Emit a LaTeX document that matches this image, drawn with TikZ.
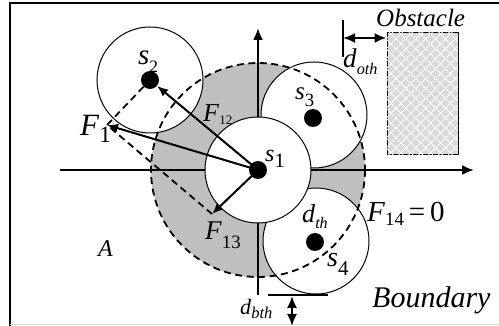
\documentclass[tikz,border=0pt]{standalone}
\usepackage{fontspec}
\setmainfont{Liberation Serif}
\usetikzlibrary{patterns.meta, arrows.meta}
% lowered subscript: [scale]{lowering}{text}
\newcommand{\lo}[3][0.7]{\raisebox{-#2em}{\scalebox{#1}{#3}}}

\begin{document}
\begin{tikzpicture}[
    x=1pt, y=-1pt,
    >={Latex[length=12pt, width=10pt]},
    robot/.style={circle, draw, fill=white, line width=1pt, minimum size=106pt, inner sep=0pt},
    dot/.style={circle, fill=black, minimum size=18pt, inner sep=0pt},
    force/.style={-{Latex[length=11pt, width=9pt]}, line width=2pt},
    helper/.style={line width=1.8pt, dash pattern=on 7pt off 4.5pt},
    lbl/.style={inner sep=0pt, anchor=base west, font=\fontsize{#1}{#1}\selectfont}
]
    \def\rSafe{107} % radius of the dashed circle
    \useasboundingbox (0,0) rectangle (499,326);
    % frame
    \draw[line width=2.5pt] (10,326) -- (10,3) -- (499,3);
    \draw[gray!30, line width=0.8pt] (10,324) -- (499,324);
    % centres
    \coordinate (c1) at (258,170);
    \coordinate (c2) at (150,80);
    \coordinate (c3) at (314,115);
    \coordinate (c4) at (316,241);
    % gray band
    \fill[gray!50] (c1) circle (\rSafe);
    % axes
    \draw[->, line width=2.2pt] (60,170) -- (474,170);
    \draw[->, line width=2.2pt] (258,295) -- (258,28);
    % robots
    \node[robot] (r2) at (c2) {};
    \node[robot] (r3) at (c3) {};
    \node[robot] (r4) at (c4) {};
    \node[robot] (r1) at (c1) {};
    \draw[helper] (c1) circle (\rSafe);
    \node[dot] (p1) at (c1) {};
    \node[dot] (p2) at (c2) {};
    \node[dot] (p3) at (313,118) {};
    \node[dot] (p4) at (315,242) {};
    % forces
    \coordinate (f1) at (107,125);
    \coordinate (f13) at (212,214);
    \draw[helper] (p2) -- (f1) -- (f13);
    \draw[force] (c1) -- (p2);
    \draw[force] (c1) -- (f1);
    \draw[force] (c1) -- (f13);
    % obstacle
    \node[draw, line width=1pt, fill=gray!30, minimum width=71pt, minimum height=122pt,
        postaction={pattern={Hatch[angle=45, distance=7pt, line width=0.8pt]}, pattern color=white}]
        (obst) at (422.5,94) {};
    \draw[line width=1.2pt] (343,20) -- (343,57);
    \coordinate (oth) at (343,38);
    \draw[<->, line width=2pt] (oth) -- (oth -| obst.west);
    % boundary gap
    \draw[line width=1.2pt] (268,295) -- (328,295);
    \coordinate (bth1) at (292,296);
    \coordinate (bth2) at (292,326);
    \draw[<->, line width=2pt] (bth1) -- (bth2);
    % labels
    \node[lbl=29] (ls2) at (138,65) {\textit{s}\lo[0.6]{0.25}{2}};
    \node[lbl=25] (ls3) at (295,100) {\textit{s}\lo[0.75]{0.25}{3}};
    \node[lbl=24] (ls1) at (265,162) {\textit{s}\lo[0.85]{0.25}{1}};
    \node[lbl=28] (ls4) at (327,267) {\textit{s}\lo[0.75]{0.3}{4}};
    \node[lbl=26] (ldth) at (302,223) {\textit{d}\lo[0.62]{0.2}{\textit{th}}};
    \node[lbl=29] (lf14) at (367,222) {\textit{F}\lo[0.65]{0.12}{14}\,=\,0};
    \node[lbl=31] (lf1) at (80,136) {\textit{F}\lo[0.75]{0.22}{1}};
    \node[lbl=26] (lf12) at (203,122) {\textit{F}\lo[0.5]{0.08}{12}};
    \node[lbl=27] (lf13) at (205,240) {\textit{F}\lo[0.7]{0.33}{13}};
    \node[lbl=24] (lA) at (98,257) {\textit{A}};
    \node[lbl=25] (lobst) at (376,27) {\textit{Obstacle}};
    \node[lbl=30] (lbound) at (372,308) {\textit{Boundary}};
    \node[lbl=27] (ldoth) at (343,68) {\textit{d}\lo[0.6]{0.25}{\textit{oth}}};
    \node[lbl=22] (ldbth) at (240,315) {\textit{d}\lo[0.75]{0.15}{\textit{bth}}};

\end{tikzpicture}
\end{document}
